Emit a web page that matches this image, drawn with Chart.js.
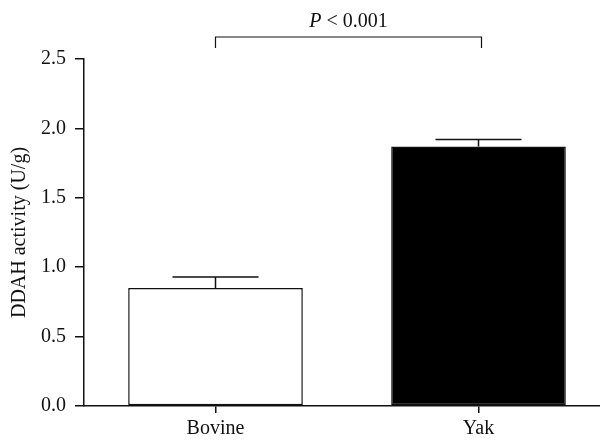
<!DOCTYPE html>
<html>
<head>
<meta charset="utf-8">
<script src="https://cdn.jsdelivr.net/npm/chart.js@4/dist/chart.umd.min.js"></script>
<style>
  html, body { margin: 0; padding: 0; background: #fff; overflow: hidden; }
  #wrap { width: 610px; height: 441px; }
</style>
</head>
<body>
<div id="wrap"><canvas id="c" width="610" height="441"></canvas></div>
<script>
const categories = ['Bovine', 'Yak'];
const means = [0.85, 1.87];
const sems = [0.08, 0.05];
const barColors = ['#ffffff', '#000000'];
const pLabel = '< 0.001';

const FONT = '"Liberation Serif", "DejaVu Serif", serif';
const FS = 20;

// draws the upper error whiskers and the significance bracket
const extras = {
  id: 'extras',
  afterDatasetsDraw(chart) {
    const ctx = chart.ctx;
    const x = chart.scales.x;
    const y = chart.scales.y;
    ctx.save();
    ctx.strokeStyle = '#111';
    ctx.lineWidth = 1.5;
    means.forEach((m, i) => {
      const cx = x.getPixelForValue(i);
      const top = y.getPixelForValue(m + sems[i]);
      const base = y.getPixelForValue(m);
      ctx.beginPath();
      ctx.moveTo(cx, base);
      ctx.lineTo(cx, top);
      ctx.moveTo(cx - 43, top);
      ctx.lineTo(cx + 43, top);
      ctx.stroke();
    });

    const x1 = x.getPixelForValue(0);
    const x2 = x.getPixelForValue(1) + 3;
    const by = 37;
    ctx.lineWidth = 1.2;
    ctx.beginPath();
    ctx.moveTo(x1, by + 11);
    ctx.lineTo(x1, by);
    ctx.lineTo(x2, by);
    ctx.lineTo(x2, by + 11);
    ctx.stroke();

    ctx.fillStyle = '#111';
    ctx.textBaseline = 'alphabetic';
    const mid = (x1 + x2) / 2;
    ctx.font = 'italic ' + FS + 'px ' + FONT;
    const pw = ctx.measureText('P').width;
    ctx.font = FS + 'px ' + FONT;
    const rw = ctx.measureText(' ' + pLabel).width;
    const start = mid - (pw + rw) / 2;
    ctx.font = 'italic ' + FS + 'px ' + FONT;
    ctx.fillText('P', start, 27);
    ctx.font = FS + 'px ' + FONT;
    ctx.fillText(' ' + pLabel, start + pw, 27);
    ctx.restore();
  }
};

new Chart(document.getElementById('c'), {
  type: 'bar',
  data: {
    labels: categories,
    datasets: [{
      data: means,
      backgroundColor: barColors,
      borderColor: '#111',
      borderWidth: 1.5,
      borderSkipped: false,
      barPercentage: 0.664,
      categoryPercentage: 1
    }]
  },
  options: {
    responsive: false,
    animation: false,
    layout: { padding: { top: 59, right: 0, left: 0, bottom: 0 } },
    plugins: { legend: { display: false }, tooltip: { enabled: false } },
    scales: {
      x: {
        offset: true,
        grid: { offset: false, drawOnChartArea: false, drawTicks: true, tickLength: 7, color: '#111', lineWidth: 1.5 },
        border: { color: '#111', width: 1.5 },
        ticks: { color: '#111', font: { family: FONT, size: FS }, padding: 4 },
        afterFit(s) { s.height = 35; }
      },
      y: {
        min: 0,
        max: 2.5,
        ticks: {
          stepSize: 0.5,
          color: '#111',
          font: { family: FONT, size: FS },
          padding: 9,
          callback: v => v.toFixed(1)
        },
        grid: { drawOnChartArea: false, tickLength: 9, color: '#111', lineWidth: 1.5 },
        border: { color: '#111', width: 1.5 },
        title: {
          display: true,
          text: 'DDAH activity (U/g)',
          color: '#111',
          font: { family: FONT, size: FS },
          padding: { top: 8, bottom: 0 }
        },
        afterFit(s) { s.width = 84; }
      }
    }
  },
  plugins: [extras]
});
</script>
</body>
</html>
